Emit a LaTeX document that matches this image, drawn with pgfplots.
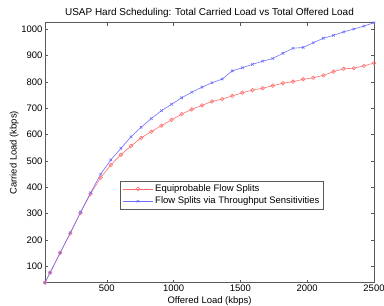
\documentclass[border=0pt]{standalone}
\usepackage{pgfplots}
\pgfplotsset{compat=1.18}
\usepackage{fontspec}
\setmainfont{Liberation Sans}
\definecolor{lred}{RGB}{255,110,110}
\definecolor{lblue}{RGB}{110,110,255}
\begin{document}
\begin{tikzpicture}
\begin{axis}[
  scale only axis,
  width=329bp, height=260bp,
  xmin=37.88, xmax=2500, ymin=37.88, ymax=1025,
  xtick={500,1000,1500,2000,2500},
  ytick={100,200,300,400,500,600,700,800,900,1000},
  tick align=inside,
  major tick length=3bp,
  tick style={gray!70!black, line width=0.4pt},
  axis line style={gray!70!black, line width=0.5pt},
  ticklabel style={font=\fontsize{9.5}{11}\selectfont},
  /pgf/number format/assume math mode=true,
  scaled ticks=false,
  xticklabel style={/pgf/number format/1000 sep={}, yshift=1bp},
  yticklabel style={/pgf/number format/1000 sep={}, xshift=1bp},
  title={USAP Hard Scheduling: Total Carried Load vs Total Offered Load},
  title style={font=\fontsize{10}{12}\selectfont, yshift=-4bp},
  xlabel={Offered Load (kbps)},
  ylabel={Carried Load (kbps)},
  label style={font=\fontsize{9.5}{11}\selectfont},
  xlabel style={yshift=2.5bp},
  ylabel style={yshift=-4bp},
  legend style={at={(0.538,0.337)}, anchor=center, font=\fontsize{9.5}{11}\selectfont,
    draw=gray!70!black, line width=0.4pt, inner sep=2bp, row sep=0pt},
  legend cell align=left,
  legend image code/.code={\draw[mark repeat=2,mark phase=2] plot coordinates {(0bp,0bp) (15bp,0bp) (30bp,0bp)};},
  clip=false,
]
\addplot[color=lred, line width=0.6pt, mark=o, mark size=1.8pt, mark options={solid, line width=0.6pt}] coordinates {
(37.88,37.9) (75.76,76) (151.52,151.5) (227.27,225) (303.03,303) (378.79,375)
(454.55,437) (530.30,485) (606.06,524) (681.82,557) (757.58,588) (833.33,611)
(909.09,634) (984.85,656) (1060.61,678) (1136.36,696) (1212.12,711) (1287.88,726)
(1363.64,735) (1439.39,747) (1515.15,759) (1590.91,769) (1666.67,776) (1742.42,786)
(1818.18,795) (1893.94,801) (1969.70,810) (2045.45,816) (2121.21,825) (2196.97,839)
(2272.73,850) (2348.48,852) (2424.24,861) (2500,872)
};
\addlegendentry{Equiprobable Flow Splits}
\addplot[color=lblue, line width=0.6pt, mark=x, mark size=1.8pt, mark options={solid, line width=0.6pt}] coordinates {
(37.88,37.9) (75.76,76) (151.52,151.5) (227.27,227.5) (303.03,305) (378.79,379)
(454.55,450) (530.30,504) (606.06,548) (681.82,592) (757.58,628) (833.33,661)
(909.09,691) (984.85,715) (1060.61,740) (1136.36,761) (1212.12,780) (1287.88,797)
(1363.64,811) (1439.39,842) (1515.15,854) (1590.91,867) (1666.67,879) (1742.42,889)
(1818.18,909) (1893.94,928) (1969.70,931) (2045.45,949) (2121.21,966) (2196.97,977)
(2272.73,990) (2348.48,1001) (2424.24,1012) (2500,1025)
};
\addlegendentry{Flow Splits via Throughput Sensitivities}
\end{axis}
\pgfresetboundingbox
\path (current axis.south west) ++(-45bp,-23.3bp) rectangle ++(384bp,306bp);
\end{tikzpicture}
\end{document}
